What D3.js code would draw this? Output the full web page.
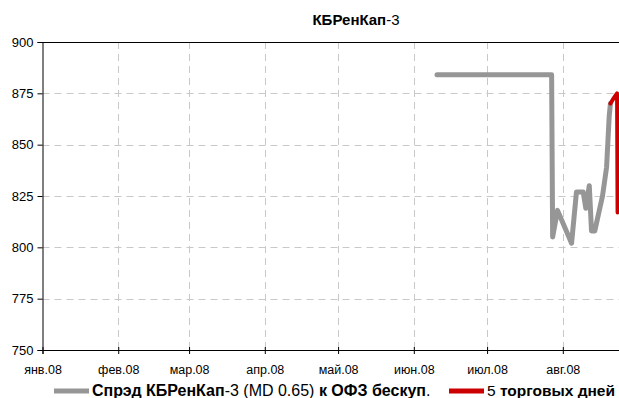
<!DOCTYPE html>
<html><head><meta charset="utf-8">
<script src="https://cdn.jsdelivr.net/npm/d3@7"></script>
<style>
body{margin:0;background:#fff;}
svg{display:block;font-family:"Liberation Sans Narrow","Arial Narrow","Liberation Sans",sans-serif;}
</style></head>
<body>
<svg id="c" width="619" height="398"></svg>
<script>
const spreadDates = ["2008-06-10T12:00","2008-07-27T10:00","2008-07-27T20:00","2008-07-29T20:00","2008-08-04T14:00","2008-08-06T14:00","2008-08-09T08:00","2008-08-10T10:00","2008-08-11T20:00","2008-08-12T18:00","2008-08-14T02:00","2008-08-17T06:00","2008-08-18T22:00","2008-08-20T00:00","2008-08-20T12:00"];
const spreadValues = [884,884,805,818,802,827,827,819,830,808,808,825,839,864,870];
const recentDates = ["2008-08-20T12:00","2008-08-21T12:00","2008-08-23T05:00","2008-08-23T10:00"];
const recentValues = [870,872,875,817];
const yTicks = [750,775,800,825,850,875,900];
const monthTicks = ["2008-01-01","2008-02-01","2008-03-01","2008-04-01","2008-05-01","2008-06-01","2008-07-01","2008-08-01"];
const monthLabels = ["янв.08","фев.08","мар.08","апр.08","май.08","июн.08","июл.08","авг.08"];

const parse = d3.utcParse("%Y-%m-%dT%H:%M");
const parseDay = d3.utcParse("%Y-%m-%d");
const svg = d3.select("#c");
const L=42.5, R=619, T=42, B=350;
const x = d3.scaleUtc().domain([parseDay("2008-01-01"), parse("2008-08-24T00:00")]).range([L, R]);
const y = d3.scaleLinear().domain([750,900]).range([B, T]);

// grid
const g = svg.append("g");
g.selectAll(".hg").data(yTicks.filter(v=>v>750&&v<900)).join("line")
  .attr("x1",L).attr("x2",R).attr("y1",d=>Math.round(y(d))+0.5).attr("y2",d=>Math.round(y(d))+0.5)
  .attr("stroke","#c8c8c8").attr("stroke-width",1).attr("stroke-dasharray","7,5");
g.selectAll(".vg").data(monthTicks.slice(1).map(parseDay)).join("line")
  .attr("x1",d=>Math.round(x(d))+0.5).attr("x2",d=>Math.round(x(d))+0.5).attr("y1",T).attr("y2",B)
  .attr("stroke","#c8c8c8").attr("stroke-width",1).attr("stroke-dasharray","7,5");

// top border
svg.append("line").attr("x1",L).attr("x2",R).attr("y1",T+0.5).attr("y2",T+0.5).attr("stroke","#000");

// axes
const ya = svg.append("g").attr("transform",`translate(${L},0)`)
  .call(d3.axisLeft(y).tickValues(yTicks).tickSize(5).tickPadding(4).tickFormat(d3.format("d")));
ya.select(".domain").attr("stroke","#000");
ya.selectAll("text").attr("font-size",13).attr("fill","#000");
const xa = svg.append("g").attr("transform",`translate(0,${B})`)
  .call(d3.axisBottom(x).tickValues(monthTicks.map(parseDay)).tickSize(4).tickPadding(11)
    .tickFormat((d,i)=>monthLabels[i]));
xa.select(".domain").attr("stroke","#000");
xa.selectAll(".tick line").attr("y1",-3);
xa.selectAll("text").attr("font-size",12.5).attr("fill","#000");

// lines
const line = d3.line().x(d=>x(d[0])).y(d=>y(d[1]));
svg.append("path").datum(spreadDates.map((d,i)=>[parse(d),spreadValues[i]]))
  .attr("d",line).attr("fill","none").attr("stroke","#969696").attr("stroke-width",5).attr("stroke-linejoin","round").attr("stroke-linecap","round");
svg.append("path").datum(recentDates.map((d,i)=>[parse(d),recentValues[i]]))
  .attr("d",line).attr("fill","none").attr("stroke","#cc0000").attr("stroke-width",4).attr("stroke-linejoin","round").attr("stroke-linecap","round");

// title
const t = svg.append("text").attr("x",356).attr("y",25).attr("text-anchor","middle").attr("font-size",15);
t.append("tspan").attr("font-weight","bold").text("КБРенКап");
t.append("tspan").text("-3");

// legend
svg.append("line").attr("x1",54).attr("x2",89).attr("y1",391).attr("y2",391).attr("stroke","#969696").attr("stroke-width",5);
const l1 = svg.append("text").attr("x",92).attr("y",396).attr("font-size",16);
l1.append("tspan").attr("font-weight","bold").text("Спрэд КБРенКап");
l1.append("tspan").text("-3 (MD 0.65) ");
l1.append("tspan").attr("font-weight","bold").text("к ОФЗ бескуп");
l1.append("tspan").text(".");
svg.append("line").attr("x1",449).attr("x2",484).attr("y1",391).attr("y2",391).attr("stroke","#cc0000").attr("stroke-width",5);
const l2 = svg.append("text").attr("x",487).attr("y",396).attr("font-size",15.5);
l2.append("tspan").text("5 ");
l2.append("tspan").attr("font-weight","bold").text("торговых дней");
</script>
</body></html>
